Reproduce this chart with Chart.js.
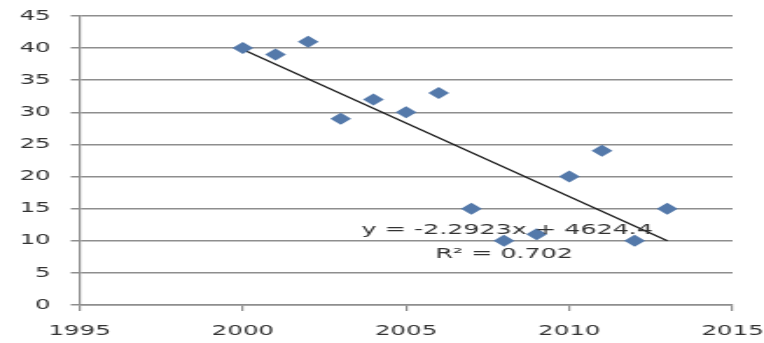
<!DOCTYPE html>
<html>
<head>
<meta charset="utf-8">
<script src="https://cdn.jsdelivr.net/npm/chart.js@4"></script>
<style>
  body { margin: 0; background: #fff; overflow: hidden; }
  /* the source image is stretched sideways, so the canvas is too */
  #chart { display: block; transform: scaleX(1.7483); transform-origin: 0 0; }
</style>
</head>
<body>
<canvas id="chart" width="437" height="343"></canvas>
<script>
const years = [2000, 2001, 2002, 2003, 2004, 2005, 2006, 2007, 2008, 2009, 2010, 2011, 2012, 2013];
const values = [40, 39, 41, 29, 32, 30, 33, 15, 10, 11, 20, 24, 10, 15];

// trendline ends as drawn in the picture
const trendX = [2000, 2013];
const trendY = [39.8, 10.0];

const eqLines = ["y = -2.2923x + 4624.4", "R² = 0.702"];
const eqAnchors = [[2008.1, 11.7], [2008.0, 7.9]];

const xMin = 1995, xMax = 2015, xStep = 5;
const yMin = 0, yMax = 45, yStep = 5;

const gridColor = "#8e8e8e";
const font = { family: "DejaVu Sans", size: 14 };

const pointsData = years.map((y, i) => ({ x: y, y: values[i] }));
const trendData = trendX.map((x, i) => ({ x: x, y: trendY[i] }));

const equationLabel = {
  id: "equationLabel",
  afterDatasetsDraw(chart) {
    const ctx = chart.ctx;
    const xs = chart.scales.x, ys = chart.scales.y;
    ctx.save();
    ctx.font = "14.5px 'DejaVu Sans'";
    ctx.fillStyle = "#333";
    ctx.textAlign = "center";
    ctx.textBaseline = "middle";
    eqLines.forEach((t, i) => {
      ctx.fillText(t, xs.getPixelForValue(eqAnchors[i][0]), ys.getPixelForValue(eqAnchors[i][1]));
    });
    ctx.restore();
  }
};

new Chart("chart", {
  type: "scatter",
  data: {
    datasets: [
      {
        data: pointsData,
        pointStyle: "rectRot",
        pointRadius: 6,
        pointBorderWidth: 0,
        backgroundColor: "#5479aa",
        borderColor: "#5479aa"
      },
      {
        type: "line",
        data: trendData,
        borderColor: "#1a1a1a",
        borderWidth: 1.3,
        pointRadius: 0,
        fill: false
      }
    ]
  },
  options: {
    responsive: false,
    devicePixelRatio: 1,
    animation: false,
    layout: { padding: { top: 16, right: 18, left: 0, bottom: 0 } },
    scales: {
      x: {
        type: "linear",
        min: xMin,
        max: xMax,
        afterFit: (s) => { s.height = 38; s.paddingLeft = 0; s.paddingRight = 0; },
        ticks: {
          stepSize: xStep, color: "#333", font: font, padding: 12, maxRotation: 0,
          callback: (v) => String(v)
        },
        grid: { drawOnChartArea: false, drawTicks: true, tickLength: 6, color: gridColor, lineWidth: 1.2 },
        border: { display: true, color: gridColor, width: 1.5 }
      },
      y: {
        min: yMin,
        max: yMax,
        afterFit: (s) => { s.width = 45.5; s.paddingTop = 0; s.paddingBottom = 0; },
        ticks: { stepSize: yStep, color: "#333", font: font, padding: 11.5 },
        grid: { color: gridColor, lineWidth: 1.5, tickLength: 5 },
        border: { display: true, color: gridColor, width: 1.2 }
      }
    },
    plugins: {
      legend: { display: false },
      tooltip: { enabled: false }
    }
  },
  plugins: [equationLabel]
});
</script>
</body>
</html>
